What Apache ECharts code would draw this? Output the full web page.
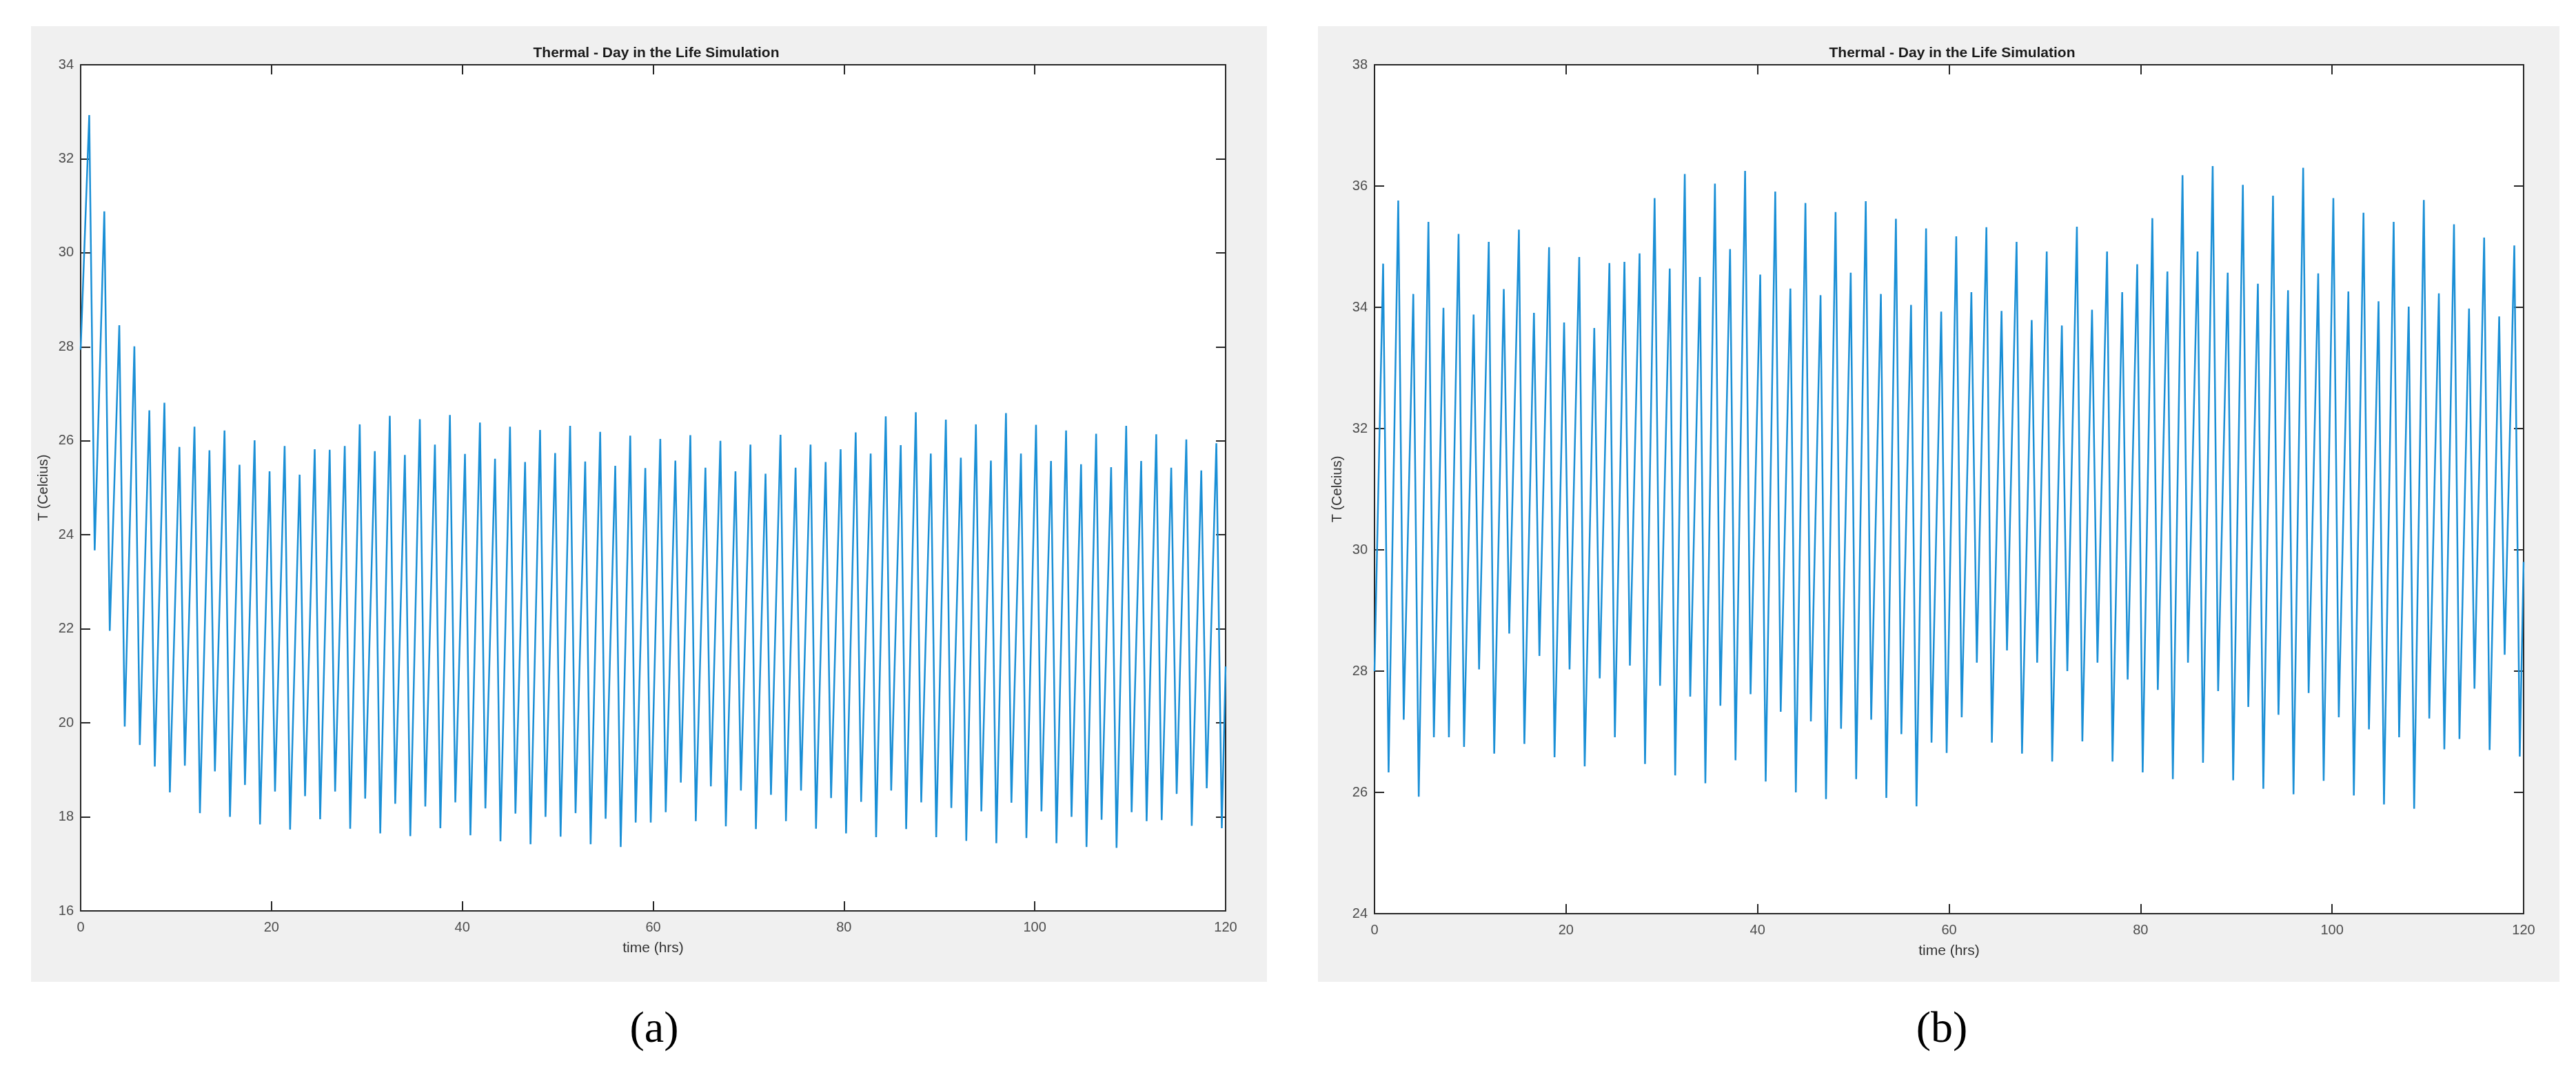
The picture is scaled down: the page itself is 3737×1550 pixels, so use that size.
<!DOCTYPE html>
<html>
<head>
<meta charset="utf-8">
<script src="https://cdn.jsdelivr.net/npm/echarts@6/dist/echarts.min.js"></script>
<style>
html, body { margin: 0; padding: 0; background: #fff; }
#main { width: 3737px; height: 1550px; }
</style>
</head>
<body>
<div id="main"></div>
<script>
// vertex times (hrs): one peak and one trough per orbit
var peakTime = [0.9,2.48,4.05,5.63,7.2,8.78,10.35,11.93,13.5,15.08,16.65,18.23,19.8,21.38,22.95,24.53,26.1,27.68,29.25,30.83,
    32.4,33.98,35.55,37.13,38.7,40.28,41.85,43.43,45.0,46.58,48.15,49.73,51.3,52.88,54.45,56.03,57.6,59.18,60.75,62.33,
    63.9,65.48,67.05,68.63,70.2,71.78,73.35,74.93,76.5,78.08,79.65,81.23,82.8,84.38,85.95,87.53,89.1,90.68,92.25,93.83,
    95.4,96.98,98.55,100.13,101.7,103.28,104.85,106.43,108.0,109.58,111.15,112.73,114.3,115.88,117.45,119.03];
var troughTime = [1.47,3.05,4.62,6.2,7.77,9.35,10.92,12.5,14.07,15.65,17.22,18.8,20.37,21.95,23.52,25.1,26.67,28.25,29.82,31.4,
    32.97,34.55,36.12,37.7,39.27,40.85,42.42,44.0,45.57,47.15,48.72,50.3,51.87,53.45,55.02,56.6,58.17,59.75,61.32,62.9,
    64.47,66.05,67.62,69.2,70.77,72.35,73.92,75.5,77.07,78.65,80.22,81.8,83.37,84.95,86.52,88.1,89.67,91.25,92.82,94.4,
    95.97,97.55,99.12,100.7,102.27,103.85,105.42,107.0,108.57,110.15,111.72,113.3,114.87,116.45,118.02,119.6];

// panel (a)
var aStart = 27.94, aEnd = 21.2;
var aPeak = [32.93,30.88,28.46,28.01,26.65,26.81,25.87,26.30,25.80,26.22,25.49,26.01,25.35,25.89,25.28,25.82,25.81,25.89,26.35,25.78,
    26.53,25.70,26.46,25.92,26.55,25.72,26.39,25.62,26.30,25.55,26.23,25.74,26.32,25.56,26.19,25.47,26.11,25.42,26.04,25.58,
    26.12,25.43,26.0,25.35,25.92,25.30,26.13,25.43,25.92,25.55,25.82,26.18,25.73,26.52,25.91,26.61,25.73,26.45,25.64,26.35,
    25.58,26.59,25.73,26.34,25.57,26.22,25.50,26.15,25.44,26.32,25.57,26.14,25.43,26.03,25.37,25.95];
var aTrough = [23.67,21.96,19.92,19.53,19.07,18.52,19.09,18.08,18.97,18.0,18.68,17.84,18.54,17.73,18.44,17.95,18.54,17.75,18.39,17.65,
    18.28,17.59,18.22,17.76,18.31,17.61,18.18,17.48,18.07,17.42,18.0,17.58,18.08,17.42,17.96,17.36,17.88,17.88,18.10,18.73,
    17.91,18.65,17.80,18.56,17.74,18.47,17.91,18.56,17.75,18.40,17.65,18.32,17.57,18.56,17.74,18.31,17.57,18.19,17.49,18.12,
    17.44,18.30,17.55,18.12,17.44,18.0,17.36,17.94,17.34,18.10,17.91,17.93,18.49,17.81,18.61,17.76];

// panel (b)
var bStart = 28.0, bEnd = 29.8;
var bPeak = [34.72,35.76,34.22,35.41,33.99,35.21,33.88,35.08,34.30,35.28,33.91,34.99,33.75,34.83,33.66,34.73,34.75,34.89,35.80,34.64,
    36.20,34.50,36.04,34.96,36.25,34.54,35.91,34.31,35.72,34.20,35.57,34.57,35.75,34.22,35.46,34.04,35.30,33.93,35.17,34.25,
    35.32,33.94,35.08,33.79,34.92,33.70,35.33,33.96,34.92,34.25,34.71,35.47,34.59,36.18,34.92,36.33,34.57,36.02,34.39,35.84,
    34.28,36.30,34.56,35.80,34.26,35.56,34.10,35.41,34.01,35.77,34.23,35.37,33.98,35.15,33.85,35.02];
var bTrough = [26.33,27.20,25.93,26.91,26.91,26.75,28.03,26.64,28.62,26.80,28.25,26.58,28.03,26.43,27.88,26.91,28.09,26.47,27.76,26.28,
    27.58,26.15,27.43,26.53,27.62,26.18,27.33,26.0,27.17,25.89,27.05,26.22,27.20,25.91,26.96,25.77,26.82,26.65,27.24,28.14,
    26.82,28.34,26.64,28.14,26.51,28.0,26.84,28.14,26.51,27.86,26.33,27.69,26.22,28.14,26.49,27.67,26.20,27.41,26.06,27.28,
    25.97,27.64,26.19,27.24,25.95,27.04,25.80,26.91,25.73,27.22,26.71,26.88,27.71,26.70,28.27,26.59];

function buildLine(start, peaks, troughs, end) {
    var pts = [[0, start]];
    for (var i = 0; i < peaks.length; i++) {
        pts.push([peakTime[i], peaks[i]]);
        pts.push([troughTime[i], troughs[i]]);
    }
    pts.push([120, end]);
    return pts;
}

var axisColor = '#262626';
var labelStyle = { color: '#4d4d4d', fontSize: 20, fontFamily: 'Liberation Sans' };

function xAx(grid, pos, show) {
    return {
        type: 'value', gridIndex: grid, position: pos, min: 0, max: 120, interval: 20,
        axisLine: { show: true, onZero: false, lineStyle: { color: axisColor, width: 2 } },
        axisTick: { show: true, inside: true, length: 14, lineStyle: { color: axisColor, width: 2 } },
        axisLabel: show ? Object.assign({ margin: 14 }, labelStyle) : { show: false },
        splitLine: { show: false },
        name: show ? 'time (hrs)' : '', nameLocation: 'middle', nameGap: 44,
        nameTextStyle: { color: '#333', fontSize: 21, fontFamily: 'Liberation Sans' }
    };
}
function yAx(grid, pos, show, min, max) {
    return {
        type: 'value', gridIndex: grid, position: pos, min: min, max: max, interval: 2,
        axisLine: { show: true, onZero: false, lineStyle: { color: axisColor, width: 2 } },
        axisTick: { show: true, inside: true, length: 14, lineStyle: { color: axisColor, width: 2 } },
        axisLabel: show ? Object.assign({ margin: 10 }, labelStyle) : { show: false },
        splitLine: { show: false },
        name: show ? 'T (Celcius)' : '', nameLocation: 'middle', nameGap: 44,
        nameTextStyle: { color: '#333', fontSize: 20, fontFamily: 'Liberation Sans' }
    };
}

var chart = echarts.init(document.getElementById('main'));
chart.setOption({
    animation: false,
    backgroundColor: '#fff',
    graphic: [
        { type: 'rect', shape: { x: 45, y: 38, width: 1793, height: 1387 }, style: { fill: '#f0f0f0' }, z: -10 },
        { type: 'rect', shape: { x: 1912, y: 38, width: 1801, height: 1387 }, style: { fill: '#f0f0f0' }, z: -10 },
        { type: 'rect', shape: { x: 117, y: 94, width: 1661, height: 1228 }, style: { fill: '#ffffff' }, z: -9 },
        { type: 'rect', shape: { x: 1994, y: 94, width: 1667, height: 1232 }, style: { fill: '#ffffff' }, z: -9 }
    ],
    title: [
        { text: 'Thermal - Day in the Life Simulation', left: 947, top: 62, textAlign: 'center',
          textStyle: { fontSize: 21, fontWeight: 'bold', color: '#1a1a1a', fontFamily: 'Liberation Sans' } },
        { text: 'Thermal - Day in the Life Simulation', left: 2827, top: 62, textAlign: 'center',
          textStyle: { fontSize: 21, fontWeight: 'bold', color: '#1a1a1a', fontFamily: 'Liberation Sans' } },
        { text: '(a)', left: 944, top: 1458, textAlign: 'center',
          textStyle: { fontSize: 64, fontWeight: 'normal', color: '#000', fontFamily: 'Liberation Serif' } },
        { text: '(b)', left: 2812, top: 1458, textAlign: 'center',
          textStyle: { fontSize: 64, fontWeight: 'normal', color: '#000', fontFamily: 'Liberation Serif' } }
    ],
    grid: [
        { left: 117, top: 94, width: 1661, height: 1228 },
        { left: 1994, top: 94, width: 1667, height: 1232 }
    ],
    xAxis: [xAx(0, 'bottom', true), xAx(0, 'top', false), xAx(1, 'bottom', true), xAx(1, 'top', false)],
    yAxis: [yAx(0, 'left', true, 16, 34), yAx(0, 'right', false, 16, 34),
            yAx(1, 'left', true, 24, 38), yAx(1, 'right', false, 24, 38)],
    series: [
        { type: 'line', xAxisIndex: 0, yAxisIndex: 0, showSymbol: false, symbol: 'none',
          lineStyle: { color: '#1a8fd6', width: 2.5 }, data: buildLine(aStart, aPeak, aTrough, aEnd) },
        { type: 'line', xAxisIndex: 2, yAxisIndex: 2, showSymbol: false, symbol: 'none',
          lineStyle: { color: '#1a8fd6', width: 2.5 }, data: buildLine(bStart, bPeak, bTrough, bEnd) }
    ]
});
</script>
</body>
</html>
